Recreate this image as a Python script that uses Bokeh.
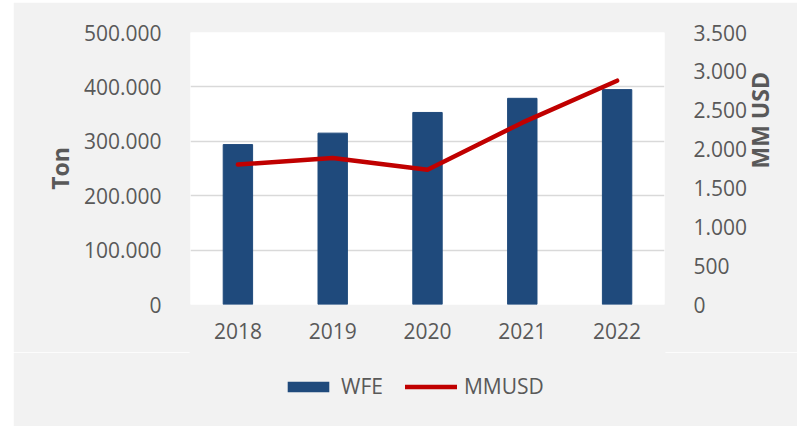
import math
from bokeh.plotting import figure
from bokeh.layouts import column
from bokeh.models import (ColumnDataSource, Range1d, LinearAxis, FixedTicker,
                          Legend, LegendItem, FactorRange)
from bokeh.embed import file_html
from bokeh.resources import INLINE

# ---- data ----
years = ["2018", "2019", "2020", "2021", "2022"]
wfe_ton = [294000, 315000, 353000, 379000, 395000]
mmusd = [1800, 1885, 1735, 2340, 2880]

left_ticks = [0, 100000, 200000, 300000, 400000, 500000]
left_tick_labels = ["0", "100.000", "200.000", "300.000", "400.000", "500.000"]
right_ticks = [0, 500, 1000, 1500, 2000, 2500, 3000, 3500]
right_tick_labels = ["0", "500", "1.000", "1.500", "2.000", "2.500", "3.000", "3.500"]

left_title = "Ton"
right_title = "MM USD"
series_names = ["WFE", "MMUSD"]

# ---- styles ----
FONT = "Open Sans"
TXT = "#595959"
BAR = "#1f4a7c"
LINE = "#c00000"
GRID = "#d9d9d9"
BG = "#f2f2f2"

src = ColumnDataSource(dict(year=years, wfe=wfe_ton, usd=mmusd))

p = figure(x_range=FactorRange(*years), y_range=Range1d(0, 500000),
           width=784, height=350,
           output_backend="svg", toolbar_location=None,
           min_border_left=177, min_border_right=133, min_border_top=30,
           min_border_bottom=48,
           background_fill_color="white", border_fill_color=BG,
           outline_line_color=None)

p.extra_y_ranges = {"usd": Range1d(0, 3500)}

bars = p.vbar(x="year", top="wfe", width=0.31, source=src,
              fill_color=BAR, line_color=BAR)
line = p.line(x="year", y="usd", source=src, y_range_name="usd",
              line_color=LINE, line_width=4.5, line_cap="round", line_join="round")

# left axis
ax = p.yaxis[0]
ax.ticker = FixedTicker(ticks=left_ticks)
ax.major_label_overrides = {t: l for t, l in zip(left_ticks, left_tick_labels)}
ax.axis_label = left_title

# right axis
rax = LinearAxis(y_range_name="usd", ticker=FixedTicker(ticks=right_ticks))
rax.major_label_overrides = {t: l for t, l in zip(right_ticks, right_tick_labels)}
rax.axis_label = right_title
p.add_layout(rax, "right")
rax.axis_label_orientation = math.pi / 2

for a in [ax, rax, p.xaxis[0]]:
    a.axis_line_color = None
    a.major_tick_line_color = None
    a.minor_tick_line_color = None
    a.major_label_text_font = FONT
    a.major_label_text_font_size = "21px"
    a.major_label_text_color = TXT
    a.axis_label_text_font = FONT
    a.axis_label_text_font_size = "23px"
    a.axis_label_text_font_style = "bold"
    a.axis_label_text_color = TXT

ax.major_label_standoff = 23
rax.major_label_standoff = 23
ax.axis_label_standoff = 5
rax.axis_label_standoff = 10
p.xaxis[0].major_label_standoff = 12

p.xgrid.grid_line_color = None
p.ygrid.grid_line_color = GRID
p.ygrid.grid_line_width = 1.5
p.ygrid.ticker = FixedTicker(ticks=left_ticks)

# ---- legend strip: same series, drawn out of view, only the legend shows ----
lg = figure(width=784, height=74, x_range=FactorRange(*years),
            y_range=Range1d(start=-1e6, end=-3e6),
            output_backend="svg", toolbar_location=None,
            x_axis_type=None, y_axis_type=None, min_border=0,
            background_fill_color=BG, border_fill_color=BG,
            outline_line_color=BG, outline_line_width=2)
lg.xgrid.visible = False
lg.ygrid.visible = False
lbar = lg.vbar(x="year", top="wfe", width=0.31, source=src,
               fill_color=BAR, line_color=None)
lline = lg.line(x="year", y="usd", source=src, line_color=LINE,
                line_width=4.5, line_cap="round")

legend = Legend(items=[LegendItem(label=series_names[0], renderers=[lbar]),
                       LegendItem(label=series_names[1], renderers=[lline])],
                orientation="horizontal", location=(92, 26),
                label_text_font=FONT, label_text_font_size="21px",
                label_text_color=TXT, glyph_width=52, glyph_height=13,
                label_standoff=7, spacing=22, border_line_color=None,
                background_fill_alpha=0, margin=0, padding=0)
lg.add_layout(legend, "center")

layout = column(p, lg, spacing=0, margin=(2, 0, 0, 13))

open("out.html", "w").write(file_html(layout, INLINE))
